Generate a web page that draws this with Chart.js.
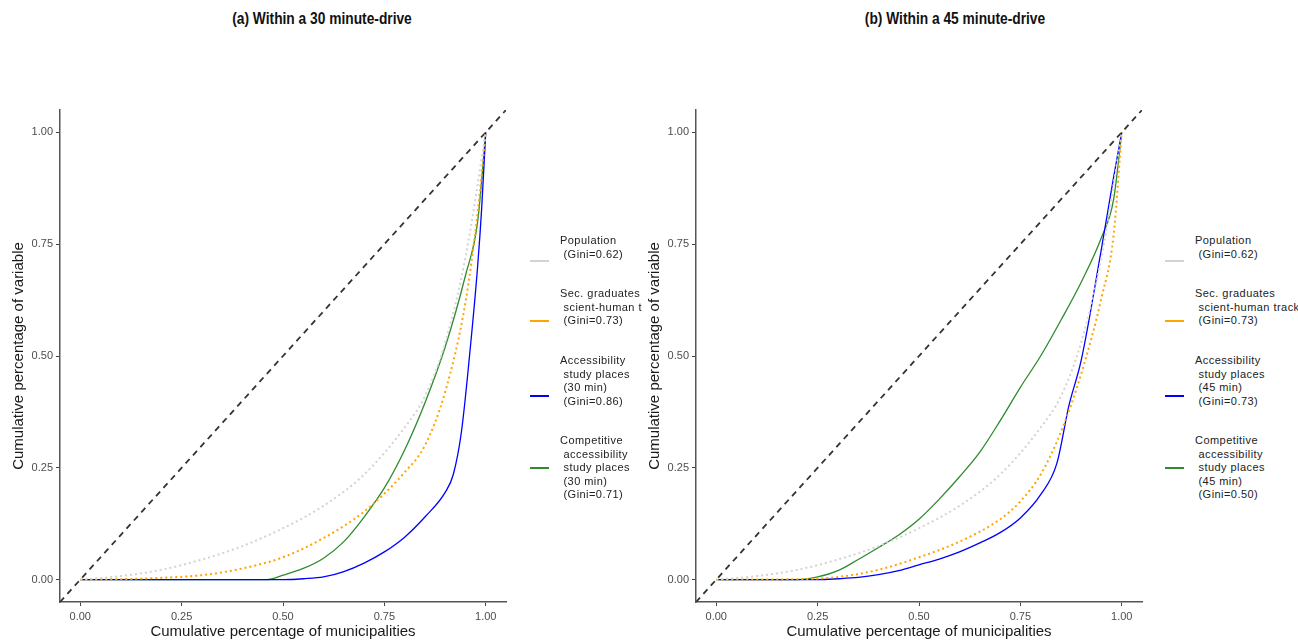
<!DOCTYPE html>
<html>
<head>
<meta charset="utf-8">
<script src="https://cdn.jsdelivr.net/npm/chart.js@4.4.1/dist/chart.umd.min.js"></script>
<style>
  body { margin: 0; background: #fff; font-family: "Liberation Sans", Arial, sans-serif; }
  #wrap { position: relative; width: 1298px; height: 640px; overflow: hidden; }
  canvas { position: absolute; }
  .title { position: absolute; top: 10px; font-weight: bold; font-size: 16px; color: #111;
           transform: translateX(-50%) scaleX(0.86); white-space: nowrap; }
  .legend { position: absolute; font-size: 11px; letter-spacing: 0.45px; color: #222; }
  .legend .line { position: absolute; white-space: pre; line-height: 13.5px; }
  .legend .key { position: absolute; width: 19px; height: 2px; }
</style>
</head>
<body>
<div id="wrap">
  <div class="title" style="left:322px">(a) Within a 30 minute-drive</div>
  <div class="title" style="left:955px">(b) Within a 45 minute-drive</div>
  <canvas id="chartA" width="520" height="540" style="left:0;top:100px"></canvas>
  <canvas id="chartB" width="520" height="540" style="left:636px;top:100px"></canvas>
  <div class="legend" id="legendA" style="left:530px;top:0"></div>
  <div class="legend" id="legendB" style="left:1165px;top:0"></div>
</div>
<script>
// axis ticks
const tickVals = [0, 0.25, 0.5, 0.75, 1];
const equalityLine = [-0.05, 1.05];

// population (same in both panels)
const popX = [0, 0.1, 0.2, 0.3, 0.4, 0.5, 0.6, 0.7, 0.8, 0.85, 0.9, 0.95, 1.0];
const popY = [0, 0.008, 0.022, 0.045, 0.075, 0.115, 0.165, 0.235, 0.34, 0.41, 0.53, 0.72, 1.0];

// panel (a) 30 min
const gradAX = [0, 0.1, 0.2, 0.3, 0.4, 0.5, 0.6, 0.7, 0.8, 0.85, 0.9, 0.95, 0.98, 1.0];
const gradAY = [0, 0.001, 0.004, 0.01, 0.025, 0.05, 0.093, 0.152, 0.24, 0.30, 0.42, 0.62, 0.82, 1.0];
const accAX = [0, 0.5, 0.55, 0.6, 0.65, 0.7, 0.75, 0.8, 0.85, 0.9, 0.92, 0.94, 0.96, 0.98, 0.99, 1.0];
const accAY = [0, 0, 0.002, 0.006, 0.018, 0.037, 0.062, 0.095, 0.14, 0.195, 0.235, 0.33, 0.5, 0.7, 0.83, 1.0];
const compAX = [0, 0.46, 0.5, 0.55, 0.6, 0.65, 0.7, 0.75, 0.8, 0.85, 0.9, 0.95, 0.98, 1.0];
const compAY = [0, 0, 0.01, 0.025, 0.048, 0.085, 0.14, 0.205, 0.29, 0.395, 0.52, 0.68, 0.8, 1.0];

// panel (b) 45 min
const gradBX = [0, 0.2, 0.3, 0.4, 0.5, 0.6, 0.7, 0.75, 0.8, 0.85, 0.9, 0.95, 0.98, 1.0];
const gradBY = [0, 0.001, 0.006, 0.022, 0.05, 0.085, 0.135, 0.175, 0.235, 0.33, 0.46, 0.63, 0.77, 1.0];
const accBX = [0, 0.25, 0.3, 0.35, 0.4, 0.45, 0.5, 0.55, 0.6, 0.65, 0.7, 0.75, 0.8, 0.84, 0.87, 0.9, 0.95, 0.98, 1.0];
const accBY = [0, 0, 0.002, 0.005, 0.011, 0.02, 0.033, 0.046, 0.062, 0.082, 0.105, 0.138, 0.19, 0.26, 0.39, 0.49, 0.74, 0.9, 1.0];
const compBX = [0, 0.2, 0.25, 0.3, 0.35, 0.4, 0.45, 0.5, 0.55, 0.6, 0.65, 0.7, 0.75, 0.8, 0.85, 0.9, 0.95, 0.98, 1.0];
const compBY = [0, 0, 0.006, 0.02, 0.045, 0.072, 0.1, 0.135, 0.18, 0.23, 0.285, 0.355, 0.43, 0.5, 0.58, 0.665, 0.765, 0.85, 1.0];

// legend labels
const legendA = [
    ['Population', ' (Gini=0.62)'],
    ['Sec. graduates', ' scient-human t', ' (Gini=0.73)'],
    ['Accessibility', ' study places', ' (30 min)', ' (Gini=0.86)'],
    ['Competitive', ' accessibility', ' study places', ' (30 min)', ' (Gini=0.71)']
];
const legendB = [
    ['Population', ' (Gini=0.62)'],
    ['Sec. graduates', ' scient-human track', ' (Gini=0.73)'],
    ['Accessibility', ' study places', ' (45 min)', ' (Gini=0.73)'],
    ['Competitive', ' accessibility', ' study places', ' (45 min)', ' (Gini=0.50)']
];
const legendColors = ['#d3d3d3', '#ffa500', '#0000ff', '#2e8b2e'];
const blockTops = [234, 287, 354, 434];   // first text line of each legend entry
const keyTops = [260, 320, 395, 467];

function pts(xs, ys) {
    return xs.map((x, i) => ({ x: x, y: ys[i] }));
}

function lineSet(data, color, dotted) {
    return {
        data: data,
        showLine: true,
        borderColor: color,
        borderWidth: dotted ? 2 : 1.3,
        borderDash: dotted ? [2, 3] : [],
        pointRadius: 0,
        cubicInterpolationMode: 'monotone',
        fill: false
    };
}

function makePanel(id, grad, acc, comp) {
    const axisFont = { family: 'Liberation Sans', size: 11 };
    const titleFont = { family: 'Liberation Sans', size: 15 };
    const axis = (title, isY) => ({
        type: 'linear',
        min: -0.05,
        max: 1.05,
        afterBuildTicks: s => { s.ticks = tickVals.map(v => ({ value: v })); },
        afterFit: s => { if (isY) s.width = 60; else s.height = 38; },
        ticks: {
            color: '#4d4d4d',
            font: axisFont,
            padding: isY ? 3 : 4,
            callback: v => Number(v).toFixed(2)
        },
        grid: { drawOnChartArea: false, drawTicks: true, tickLength: 4, color: '#444' },
        border: { display: true, color: '#555', width: 1.5 },
        title: {
            display: true,
            text: title,
            color: '#1a1a1a',
            font: titleFont,
            padding: isY ? { top: 10, bottom: 0 } : { top: 0, bottom: -1 }
        }
    });

    new Chart(document.getElementById(id), {
        type: 'scatter',
        data: {
            datasets: [
                lineSet(pts(popX, popY), legendColors[0], true),
                lineSet(pts(grad[0], grad[1]), legendColors[1], true),
                lineSet(pts(acc[0], acc[1]), legendColors[2], false),
                lineSet(pts(comp[0], comp[1]), legendColors[3], false),
                {
                    data: pts(equalityLine, equalityLine),
                    showLine: true,
                    borderColor: '#333',
                    borderWidth: 1.8,
                    borderDash: [6, 5],
                    pointRadius: 0
                }
            ]
        },
        options: {
            responsive: false,
            animation: false,
            layout: { padding: { top: 10, right: 14, left: 0, bottom: 0 } },
            plugins: { legend: { display: false }, tooltip: { enabled: false } },
            scales: {
                x: axis('Cumulative percentage of municipalities', false),
                y: axis('Cumulative percentage of variable', true)
            }
        }
    });
}

function buildLegend(id, entries) {
    const box = document.getElementById(id);
    box.innerHTML = entries.map((lines, i) => `
        <div class="key" style="left:0;top:${keyTops[i]}px;background:${legendColors[i]}"></div>
        ${lines.map((t, j) => `<div class="line" style="left:30px;top:${blockTops[i] + j * 13.5}px">${t}</div>`).join('')}
    `).join('');
}

makePanel('chartA', [gradAX, gradAY], [accAX, accAY], [compAX, compAY]);
makePanel('chartB', [gradBX, gradBY], [accBX, accBY], [compBX, compBY]);
buildLegend('legendA', legendA);
buildLegend('legendB', legendB);
</script>
</body>
</html>
